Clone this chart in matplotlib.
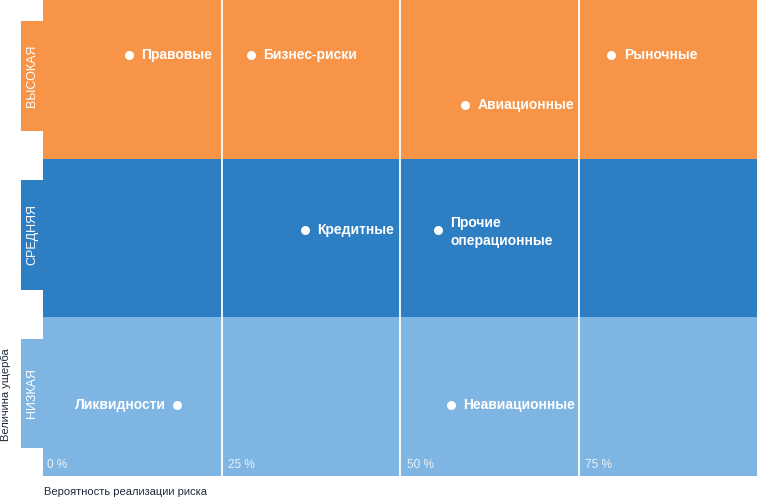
import matplotlib
matplotlib.use("Agg")
import matplotlib.pyplot as plt
from matplotlib.patches import Rectangle

plt.rcParams['font.family'] = ['Liberation Sans', 'DejaVu Sans']

# Data
levels = ["НИЗКАЯ", "СРЕДНЯЯ", "ВЫСОКАЯ"]
band_colors = ["#7EB5E2", "#2E7EC3", "#F79448"]
tick_vals = [0, 25, 50, 75]
tick_labels = ["0 %", "25 %", "50 %", "75 %"]

risk_names = ["Правовые", "Бизнес-риски", "Рыночные", "Авиационные",
              "Кредитные", "Прочие\nоперационные", "Ликвидности", "Неавиационные"]
risk_prob = [12.0, 29.1, 79.6, 59.1, 36.7, 55.3, 18.8, 57.1]
risk_damage = [2.653, 2.653, 2.653, 2.338, 1.55, 1.55, 0.447, 0.447]
label_side = ["right", "right", "right", "right", "right", "right", "left", "right"]

W, H = 757, 500
fig = plt.figure(figsize=(W / 100, H / 100), dpi=100)
fig.patch.set_facecolor("white")

left, bottom, right, top = 43, 476, 757, 0
ax = fig.add_axes([left / W, (H - bottom) / H, (right - left) / W, (bottom - top) / H])
ax.set_xlim(0, 100)
ax.set_ylim(0, 3)
ax.axis("off")

for i, c in enumerate(band_colors):
    ax.axhspan(i, i + 1, color=c, lw=0, zorder=0)
for t in tick_vals[1:]:
    ax.axvline(t, color="white", lw=1.3, zorder=1)

for t, lab in zip(tick_vals, tick_labels):
    dx = 3.2 if t == 0 else 5
    ax.annotate(lab, xy=(t, 0), xytext=(dx, 8), textcoords="offset points",
                color="#EAF2FA", fontsize=8.5, ha="left", va="center")

# Points
ax.scatter(risk_prob, risk_damage, s=42, color="white", zorder=3, lw=0)
for name, x, y, side in zip(risk_names, risk_prob, risk_damage, label_side):
    if side == "right":
        yoff = -1.5 if "\n" in name else 0
        ax.annotate(name, xy=(x, y), xytext=(9, yoff), textcoords="offset points",
                    ha="left", va="center", color="white", fontsize=10,
                    fontweight="bold", linespacing=1.4)
    else:
        ax.annotate(name, xy=(x, y), xytext=(-8, 0), textcoords="offset points",
                    ha="right", va="center", color="white", fontsize=10,
                    fontweight="bold")

# Level tabs on the left
tab_x0, tab_x1 = 21, 43
tab_ranges = [(339, 448), (180, 290), (21, 131)]
for (y0, y1), c, lab in zip(tab_ranges, band_colors, levels):
    fig.patches.append(Rectangle((tab_x0 / W, (H - y1) / H), (tab_x1 - tab_x0) / W,
                                 (y1 - y0) / H, transform=fig.transFigure,
                                 color=c, lw=0, zorder=0))
    fig.text((tab_x0 + tab_x1) / 2 / W, (H - (y0 + y1) / 2) / H, lab,
             rotation=90, ha="center", va="center", color="white", fontsize=9)

fig.text(6 / W, (H - 395) / H, "Величина ущерба", rotation=90, ha="center",
         va="center", color="#1E2A3C", fontsize=8)
fig.text(44 / W, (H - 492) / H, "Вероятность реализации риска", ha="left",
         va="center", color="#1E2A3C", fontsize=8)

fig.savefig("out.png", dpi=100, facecolor="white")
